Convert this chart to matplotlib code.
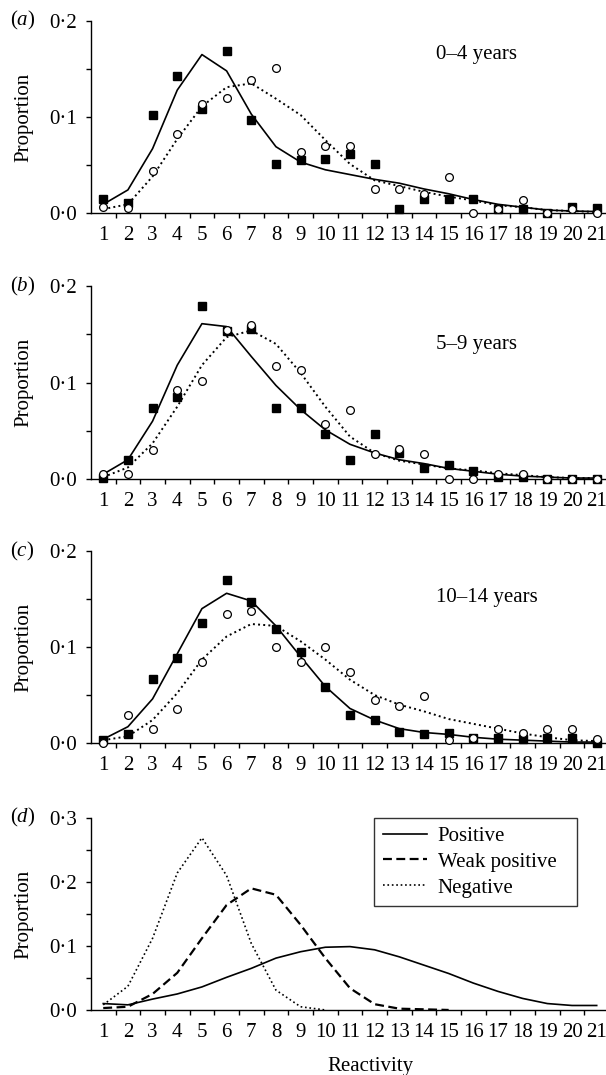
import numpy as np
import matplotlib.pyplot as plt
from matplotlib.ticker import FixedLocator, FixedFormatter

plt.rcParams['font.family'] = ['Liberation Serif', 'DejaVu Serif']
plt.rcParams['mathtext.fontset'] = 'custom'
plt.rcParams['mathtext.it'] = 'Liberation Serif:italic'
plt.rcParams['mathtext.rm'] = 'Liberation Serif'

# data
reactivity = list(range(1, 22))

# (a) 0-4 years
a_pos_obs = [0.015, 0.010, 0.102, 0.143, 0.108, 0.169, 0.097, 0.051, 0.055, 0.056, 0.061,
             0.051, 0.004, 0.015, 0.015, 0.015, 0.004, 0.004, 0.0, 0.006, 0.005]
a_neg_obs = [0.006, 0.005, 0.044, 0.082, 0.114, 0.120, 0.139, 0.151, 0.063, 0.070, 0.070,
             0.025, 0.025, 0.020, 0.037, 0.0, 0.004, 0.013, 0.0, 0.004, 0.0]
a_pos_fit = [0.009, 0.024, 0.067, 0.128, 0.165, 0.148, 0.103, 0.069, 0.053, 0.045, 0.040,
             0.035, 0.031, 0.025, 0.020, 0.014, 0.009, 0.006, 0.003, 0.002, 0.0015]
a_neg_fit = [0.004, 0.009, 0.038, 0.077, 0.111, 0.131, 0.135, 0.119, 0.102, 0.076, 0.051,
             0.034, 0.028, 0.022, 0.017, 0.013, 0.008, 0.006, 0.003, 0.002, 0.001]

# (b) 5-9 years
b_pos_obs = [0.001, 0.020, 0.074, 0.085, 0.179, 0.153, 0.156, 0.074, 0.074, 0.047, 0.020,
             0.047, 0.027, 0.011, 0.015, 0.008, 0.002, 0.002, 0.0, 0.0, 0.0]
b_neg_obs = [0.005, 0.005, 0.030, 0.092, 0.102, 0.154, 0.160, 0.117, 0.113, 0.057, 0.072,
             0.026, 0.031, 0.026, 0.0, 0.0, 0.005, 0.005, 0.0, 0.0, 0.0]
b_pos_fit = [0.005, 0.020, 0.060, 0.118, 0.161, 0.158, 0.127, 0.097, 0.072, 0.051, 0.036,
             0.027, 0.020, 0.016, 0.011, 0.008, 0.005, 0.003, 0.002, 0.001, 0.001]
b_neg_fit = [0.002, 0.012, 0.037, 0.075, 0.118, 0.147, 0.154, 0.140, 0.110, 0.075, 0.044,
             0.027, 0.019, 0.015, 0.011, 0.009, 0.006, 0.004, 0.002, 0.001, 0.001]

# (c) 10-14 years
c_pos_obs = [0.003, 0.009, 0.067, 0.089, 0.125, 0.170, 0.147, 0.119, 0.095, 0.058, 0.029,
             0.024, 0.012, 0.009, 0.010, 0.005, 0.005, 0.004, 0.005, 0.005, 0.0]
c_neg_obs = [0.0, 0.029, 0.015, 0.035, 0.084, 0.134, 0.138, 0.100, 0.084, 0.100, 0.074,
             0.045, 0.039, 0.049, 0.003, 0.005, 0.015, 0.010, 0.015, 0.015, 0.004]
c_pos_fit = [0.004, 0.017, 0.046, 0.093, 0.140, 0.156, 0.148, 0.122, 0.090, 0.059, 0.036,
             0.024, 0.015, 0.011, 0.009, 0.006, 0.004, 0.003, 0.002, 0.001, 0.001]
c_neg_fit = [0.003, 0.007, 0.024, 0.052, 0.087, 0.111, 0.124, 0.122, 0.106, 0.087, 0.066,
             0.050, 0.040, 0.033, 0.025, 0.020, 0.015, 0.010, 0.006, 0.003, 0.002]

# (d) fitted distributions
d_positive = [0.010, 0.008, 0.017, 0.025, 0.036, 0.051, 0.065, 0.081, 0.091, 0.098, 0.099,
              0.094, 0.083, 0.070, 0.057, 0.042, 0.029, 0.018, 0.010, 0.007, 0.007]
d_weak_x = list(range(1, 16))
d_weak = [0.003, 0.005, 0.025, 0.058, 0.112, 0.164, 0.190, 0.180, 0.133, 0.081, 0.034,
          0.009, 0.002, 0.001, 0.0]
d_neg_x = list(range(1, 11))
d_negative = [0.008, 0.037, 0.112, 0.214, 0.269, 0.210, 0.104, 0.031, 0.005, 0.0]

age_labels = ['0–4 years', '5–9 years', '10–14 years']
age_label_y = [0.165, 0.139, 0.152]
panel_letters = ['a', 'b', 'c', 'd']

FS = 15

fig = plt.figure(figsize=(6.06, 10.75), dpi=100)
# axes run a little past the right edge of the page, as in the scan
left, width = 0.150, 0.855
bottoms = [0.8019, 0.5544, 0.3088, 0.0605]
heights = [0.1786, 0.1795, 0.1786, 0.1786]
axes = [fig.add_axes([left, b, width, h]) for b, h in zip(bottoms, heights)]


def style_axis(ax, ymax, letter):
    ax.set_xlim(0.5, 21.5)
    ax.set_ylim(0, ymax)
    for s in ['top', 'right']:
        ax.spines[s].set_visible(False)
    for s in ['left', 'bottom']:
        ax.spines[s].set_linewidth(1.0)
    ax.xaxis.set_major_locator(FixedLocator(reactivity))
    ax.xaxis.set_major_formatter(FixedFormatter([str(r) for r in reactivity]))
    ax.xaxis.set_minor_locator(FixedLocator([r + 0.5 for r in reactivity[:-1]]))
    ax.tick_params(axis='x', which='major', length=0, pad=9.5, labelsize=FS)
    ax.tick_params(axis='x', which='minor', length=3.5, width=1.0, direction='out')
    yt = np.arange(0, ymax + 0.001, 0.1)
    ax.set_yticks(yt)
    ax.set_yticklabels([('%.1f' % v).replace('.', '·') for v in yt])
    ax.yaxis.set_minor_locator(FixedLocator(np.arange(0.05, ymax, 0.1)))
    ax.tick_params(axis='y', which='both', length=3.5, width=1.0, direction='out',
                   pad=6.5, labelsize=FS)
    ax.set_ylabel('Proportion', fontsize=FS)
    ax.yaxis.set_label_coords(-0.111, 0.5)
    ax.text(-0.156, 1.0, '(' + r'$\it{' + letter + '}$' + ')', transform=ax.transAxes,
            ha='left', va='center', fontsize=FS)


obs_sets = [(a_pos_obs, a_neg_obs, a_pos_fit, a_neg_fit),
            (b_pos_obs, b_neg_obs, b_pos_fit, b_neg_fit),
            (c_pos_obs, c_neg_obs, c_pos_fit, c_neg_fit)]

for i, (pos_obs, neg_obs, pos_fit, neg_fit) in enumerate(obs_sets):
    ax = axes[i]
    ax.plot(reactivity, pos_fit, color='black', lw=1.2, zorder=2)
    ax.plot(reactivity, neg_fit, color='black', lw=1.4, ls=':', zorder=2)
    ax.plot(reactivity, pos_obs, ls='none', marker='s', ms=5.8, color='black', zorder=3,
            clip_on=False)
    ax.plot(reactivity, neg_obs, ls='none', marker='o', ms=5.6, mfc='white', mec='black',
            mew=0.9, zorder=4, clip_on=False)
    style_axis(ax, 0.2, panel_letters[i])
    ax.text(14.5, age_label_y[i], age_labels[i], ha='left', va='center', fontsize=FS)

ax = axes[3]
ax.plot(reactivity, d_positive, color='black', lw=1.2, label='Positive')
ax.plot(d_weak_x, d_weak, color='black', lw=1.6, dashes=(4, 2), label='Weak positive')
ax.plot(d_neg_x, d_negative, color='black', lw=1.2, ls=':', label='Negative')
style_axis(ax, 0.3, panel_letters[3])
ax.set_xlabel('Reactivity', fontsize=FS)
ax.xaxis.set_label_coords(0.539, -0.245)
leg = ax.legend(loc='upper left', bbox_to_anchor=(0.547, 0.0, 0.392, 1.0), mode='expand',
                borderaxespad=0, fontsize=FS, frameon=True, fancybox=False,
                handlelength=2.15, handletextpad=0.5, labelspacing=0.3, borderpad=0.4)
leg.get_frame().set_edgecolor('black')
leg.get_frame().set_linewidth(1.0)

fig.savefig('out.png', dpi=100)
